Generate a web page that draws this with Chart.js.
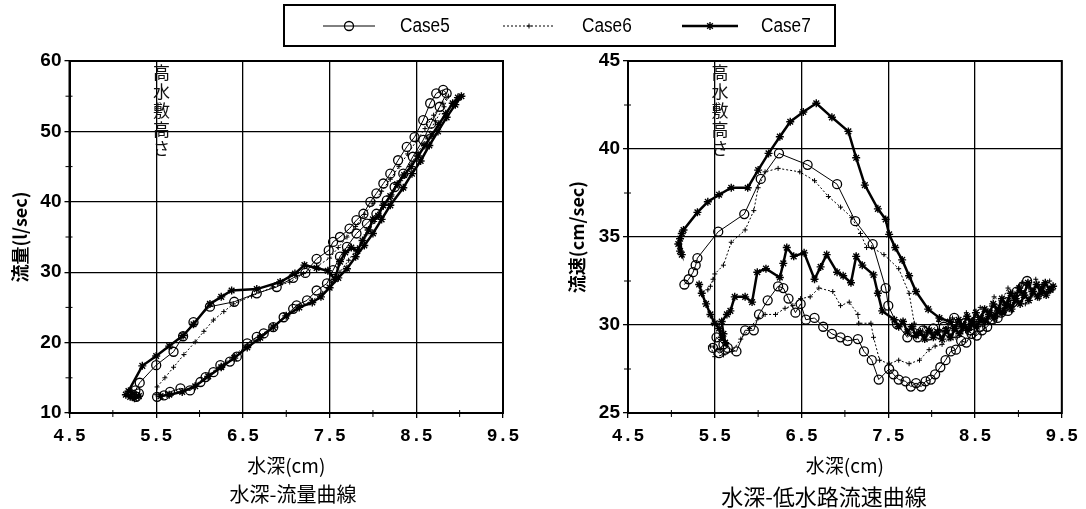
<!DOCTYPE html>
<html>
<head>
<meta charset="utf-8">
<script src="https://cdn.jsdelivr.net/npm/chart.js@4.4.1/dist/chart.umd.min.js"></script>
<style>
  body { margin: 0; background: #fff; }
  #page { position: relative; width: 1086px; height: 509px; overflow: hidden; background: #fff; }
  .wrap { position: absolute; top: 0; height: 509px; }
  #legend { position: absolute; left: 283px; top: 4px; width: 549px; height: 39px; border: 2px solid #000; }
  #legend canvas, #legend span { position: absolute; }
  #legend span { top: 8px; font: 20px "Liberation Sans", sans-serif; color: #000; transform: scaleX(0.86); transform-origin: left center; }
  .caption { position: absolute; top: 479px; font: 20px "Noto Sans CJK JP", sans-serif; color: #000; white-space: nowrap; transform: translateX(-50%); }
</style>
</head>
<body>
<div id="page">
  <div class="wrap" style="left:0;width:545px"><canvas id="flowChart"></canvas></div>
  <div class="wrap" style="left:545px;width:541px"><canvas id="velChart"></canvas></div>
  <div id="legend">
    <canvas id="key0" width="52" height="16" style="left:38px;top:12px"></canvas><span style="left:115px">Case5</span>
    <canvas id="key1" width="52" height="16" style="left:218px;top:12px"></canvas><span style="left:297px">Case6</span>
    <canvas id="key2" width="56" height="16" style="left:397px;top:12px"></canvas><span style="left:476px">Case7</span>
  </div>
  <div class="caption" style="left:293px">水深-流量曲線</div>
  <div class="caption" style="left:824px;font-size:22px">水深-低水路流速曲線</div>
</div>
<script>
// axis ticks
const depthTicks = [4.5, 5.5, 6.5, 7.5, 8.5, 9.5];
const flowTicks = [10, 20, 30, 40, 50, 60];
const velTicks = [25, 30, 35, 40, 45];
const seriesNames = ['Case5', 'Case6', 'Case7'];

// 水深-流量 (rising then falling stage)
const flowDepth5 = [5.22, 5.27, 5.30, 5.26, 5.31, 5.50, 5.70, 5.81, 5.93, 6.12, 6.40, 6.66, 6.89, 7.08, 7.22, 7.35, 7.49, 7.54, 7.62, 7.73,
  7.81, 7.89, 7.97, 8.04, 8.12, 8.20, 8.29, 8.39, 8.48, 8.58, 8.66, 8.73, 8.81, 8.85,
  8.77, 8.67, 8.58, 8.46, 8.35, 8.25, 8.16, 8.04, 7.93, 7.81, 7.70, 7.62, 7.54, 7.47, 7.35, 7.24, 7.12, 7.08, 6.97, 6.85,
  6.74, 6.66, 6.55, 6.43, 6.35, 6.24, 6.16, 6.07, 6.01, 5.89, 5.78, 5.66, 5.59, 5.51];
const flow5 = [12.6, 12.3, 12.8, 13.2, 14.3, 16.8, 18.7, 20.9, 22.9, 25.1, 25.8, 27.0, 27.9, 29.2, 29.9, 31.9, 33.1, 34.3, 35.0, 36.2,
  37.4, 38.3, 40.0, 41.2, 42.6, 44.0, 45.9, 47.8, 49.2, 51.6, 54.0, 55.4, 55.9, 55.4,
  53.5, 51.1, 48.8, 46.4, 44.0, 42.1, 40.2, 38.3, 36.9, 35.5, 33.6, 32.2, 30.3, 28.4, 27.4, 26.0, 25.3, 24.8, 23.6, 22.2,
  21.3, 20.8, 19.9, 18.0, 17.3, 16.8, 15.8, 15.1, 14.4, 13.2, 13.5, 13.0, 12.5, 12.3];

const flowDepth6 = [5.50, 5.51, 5.60, 5.70, 5.82, 5.95, 6.05, 6.16, 6.28, 6.39, 6.60, 6.85, 7.04, 7.20, 7.35, 7.50, 7.60, 7.70, 7.80, 7.90,
  8.00, 8.10, 8.20, 8.30, 8.40, 8.50, 8.60, 8.70, 8.80, 8.87,
  8.82, 8.72, 8.62, 8.52, 8.42, 8.32, 8.22, 8.12, 8.02, 7.92, 7.82, 7.72, 7.62, 7.52, 7.42, 7.30, 7.15, 7.00, 6.85, 6.70,
  6.55, 6.40, 6.25, 6.10, 5.95, 5.80, 5.65, 5.55];
const flow6 = [12.6, 13.7, 15.0, 16.5, 18.3, 20.1, 21.6, 23.2, 24.4, 25.5, 26.6, 27.9, 28.6, 29.8, 30.8, 32.0, 33.5, 35.0, 36.5, 38.2,
  39.8, 41.5, 43.2, 45.0, 46.8, 48.6, 50.4, 52.3, 54.0, 55.0,
  53.5, 51.5, 49.2, 47.0, 45.0, 43.0, 41.0, 39.2, 37.2, 35.3, 33.5, 31.7, 30.0, 28.5, 27.0, 26.0, 25.0, 23.8, 22.4, 21.0,
  19.7, 18.2, 16.8, 15.4, 14.0, 13.0, 12.6, 12.4];

const flowDepth7 = [5.15, 5.20, 5.25, 5.30, 5.22, 5.18, 5.34, 5.50, 5.65, 5.81, 5.93, 6.12, 6.25, 6.37, 6.66, 6.93, 7.10, 7.21, 7.35, 7.48,
  7.56, 7.62, 7.68, 7.75, 7.82, 7.88, 7.95, 8.00, 8.06, 8.12, 8.20, 8.28, 8.36, 8.44, 8.52, 8.60, 8.68, 8.76, 8.84, 8.92,
  8.98, 9.02,
  8.95, 8.85, 8.75, 8.65, 8.55, 8.45, 8.35, 8.20, 8.10, 8.00, 7.90, 7.80, 7.70, 7.60, 7.50, 7.40, 7.30, 7.15, 7.00, 6.85,
  6.70, 6.55, 6.40, 6.25, 6.10, 5.95, 5.80, 5.65, 5.55];
const flow7 = [12.6, 12.3, 12.1, 12.4, 12.9, 13.1, 16.7, 18.1, 19.5, 21.0, 22.6, 25.5, 26.5, 27.4, 27.6, 28.6, 29.8, 31.0, 30.6, 30.2,
  29.0, 31.5, 32.8, 33.5, 33.0, 34.5, 36.0, 37.5, 38.0, 39.5, 40.8, 42.5, 43.8, 45.0, 46.5, 48.0, 49.5, 51.0, 52.5, 54.0,
  54.8, 55.0,
  53.8, 52.0, 50.0, 48.0, 45.8, 44.0, 42.0, 39.5, 37.5, 35.5, 33.8, 32.2, 30.5, 29.2, 27.8, 26.5, 25.7, 25.0, 23.8, 22.2,
  20.7, 19.3, 17.8, 16.5, 15.2, 13.8, 13.0, 12.6, 12.4];

// 水深-低水路流速
const velDepth5 = [5.15, 5.20, 5.25, 5.28, 5.30, 5.54, 5.84, 6.03, 6.24, 6.57, 6.91, 7.12, 7.32, 7.47, 7.50, 7.60, 7.72,
  7.78, 7.84, 7.90, 7.96, 8.02, 8.08, 8.14, 8.20, 8.26, 8.32, 8.38, 8.44, 8.50, 8.56, 8.62, 8.68, 8.74, 8.80, 8.86, 8.92,
  8.98, 9.04, 9.10, 9.05,
  9.00, 8.94, 8.88, 8.82, 8.76, 8.70, 8.64, 8.58, 8.52, 8.46, 8.40, 8.34, 8.28, 8.22, 8.16, 8.10, 8.04, 7.99, 7.93, 7.88,
  7.82, 7.76, 7.70, 7.62, 7.56, 7.51,
  7.39, 7.31, 7.22, 7.15, 7.03, 6.95, 6.85, 6.75, 6.65, 6.55, 6.49, 6.43, 6.35, 6.29, 6.23, 6.11, 6.01, 5.95, 5.85, 5.75,
  5.65, 5.60, 5.52, 5.48, 5.55, 5.62];
const vel5 = [32.3, 32.6, 33.0, 33.4, 33.8, 35.3, 36.3, 38.3, 39.75, 39.1, 38.0, 35.9, 34.6, 32.1, 31.1, 30.05, 29.3,
  29.6, 29.3, 29.7, 29.4, 29.8, 29.5, 29.9, 29.6, 30.4, 29.8, 30.1, 29.7, 30.2, 29.9, 30.5, 30.3, 30.9, 30.7, 31.3, 31.4,
  31.9, 32.1, 32.5, 32.2,
  31.6, 31.3, 30.8, 30.9, 30.4, 30.3, 29.9, 29.7, 29.4, 29.5, 29.0, 29.1, 28.6, 28.5, 28.0, 27.6, 27.2, 26.9, 26.8, 26.5,
  26.7, 26.5, 26.8, 26.9, 27.2, 27.5,
  26.9, 28.0, 28.5, 29.2, 29.1, 29.3, 29.5, 29.9, 30.4, 30.3, 31.2, 30.7, 31.5, 32.1, 32.2, 31.4, 30.6, 29.7, 29.7, 28.5,
  28.7, 28.9, 29.3, 28.7, 28.4, 28.6];

const velDepth6 = [5.42, 5.45, 5.48, 5.50, 5.60, 5.69, 5.85, 5.95, 6.00, 6.08, 6.23, 6.48, 6.65, 6.81, 6.95, 7.08, 7.18, 7.25, 7.31, 7.45,
  7.62, 7.74, 7.80, 7.85,
  7.92, 8.00, 8.08, 8.16, 8.24, 8.32, 8.40, 8.48, 8.56, 8.64, 8.72, 8.80, 8.88, 8.96, 9.04, 9.12, 9.20, 9.28, 9.36, 9.40,
  9.32, 9.24, 9.16, 9.08, 9.00, 8.92, 8.84, 8.76, 8.68, 8.60, 8.52, 8.44, 8.36, 8.28, 8.20, 8.12, 8.04, 7.97,
  7.86, 7.74, 7.62, 7.51, 7.40, 7.33, 7.30, 7.16, 7.15, 7.05, 6.95, 6.86, 6.70, 6.60, 6.49, 6.40, 6.31, 6.20, 6.08, 6.00,
  5.90, 5.80, 5.70, 5.60, 5.50, 5.45, 5.55];
const vel6 = [32.0, 32.2, 32.6, 32.9, 33.4, 34.7, 35.4, 36.5, 37.8, 38.7, 38.9, 38.7, 38.2, 37.3, 36.7, 36.1, 35.2, 34.4, 34.4, 34.0,
  33.2, 31.8, 30.1, 29.6,
  29.9, 29.6, 30.2, 29.8, 30.4, 30.0, 30.7, 30.3, 31.0, 30.8, 31.6, 31.3, 32.1, 31.8, 32.4, 32.1, 32.6, 32.3, 32.5, 32.0,
  31.9, 31.5, 31.7, 31.2, 31.3, 30.8, 31.0, 30.5, 30.6, 30.2, 30.2, 29.8, 29.7, 29.3, 29.2, 28.9, 28.8, 28.6,
  28.0, 27.8, 28.0, 27.8, 28.0, 29.3, 30.1, 30.1, 30.6, 31.3, 31.1, 31.9, 32.1, 31.6, 31.5, 31.1, 30.95, 30.6, 30.6, 30.4,
  29.8, 29.2, 28.5, 28.3, 28.2, 28.8, 28.6];

const velDepth7 = [5.08, 5.10, 5.12, 5.10, 5.12, 5.14, 5.30, 5.42, 5.55, 5.69, 5.88, 6.00, 6.12, 6.25, 6.37, 6.52, 6.67, 6.85, 7.04, 7.13,
  7.23, 7.38, 7.47, 7.51, 7.58, 7.66, 7.74, 7.82, 7.96, 8.09, 8.21,
  8.26, 8.31, 8.36, 8.41, 8.46, 8.51, 8.56, 8.61, 8.66, 8.71, 8.76, 8.81, 8.86, 8.91, 8.96, 9.01, 9.06, 9.11, 9.16, 9.21,
  9.26, 9.31, 9.36, 9.40,
  9.37, 9.32, 9.27, 9.22, 9.17, 9.12, 9.07, 9.02, 8.97, 8.92, 8.87, 8.82, 8.77, 8.72, 8.67, 8.62, 8.57, 8.52, 8.47, 8.42,
  8.37, 8.32, 8.27, 8.22, 8.17, 8.12, 8.07, 8.02, 7.97, 7.92, 7.87, 7.82, 7.77, 7.72, 7.67, 7.62, 7.57,
  7.43, 7.38, 7.33, 7.20, 7.13, 7.07, 6.98, 6.91, 6.79, 6.72, 6.65, 6.53, 6.41, 6.33, 6.29, 6.25, 6.09, 5.99, 5.93, 5.85,
  5.73, 5.68, 5.64, 5.58, 5.60, 5.62, 5.58, 5.55, 5.50, 5.45, 5.40, 5.35, 5.32];
const vel7 = [34.6, 34.2, 34.0, 34.9, 35.2, 35.4, 36.4, 37.0, 37.4, 37.8, 37.8, 38.8, 39.75, 40.7, 41.55, 42.1, 42.6, 41.8, 41.0, 39.5,
  37.95, 36.6, 36.0, 35.15, 34.4, 33.7, 32.8, 31.9, 30.9, 30.4, 30.2,
  29.8, 30.3, 29.9, 30.5, 30.1, 30.7, 30.3, 30.9, 30.6, 31.2, 30.8, 31.5, 31.1, 31.8, 31.4, 32.1, 31.7, 32.4, 31.9, 32.3,
  31.8, 32.4, 32.0, 32.2,
  32.0, 31.7, 32.1, 31.6, 31.9, 31.4, 31.7, 31.2, 31.5, 30.9, 31.2, 30.7, 30.9, 30.4, 30.7, 30.2, 30.4, 29.9, 30.2, 29.7,
  30.0, 29.5, 29.8, 29.3, 29.7, 29.2, 29.6, 29.3, 29.7, 29.2, 29.6, 29.4, 29.9, 29.6, 30.2, 29.9, 30.3,
  30.8, 31.8, 32.85, 33.4, 33.9, 32.4, 32.8, 33.0, 34.0, 33.3, 32.6, 34.1, 33.9, 34.4, 33.5, 32.7, 33.2, 33.0, 31.3, 31.6,
  31.6, 30.8, 30.6, 30.2, 29.5, 29.0, 29.3, 29.8, 30.1, 30.6, 31.2, 31.8, 32.3];

// per-series look
const lineWidths = [1, 1, 2.5];
const lineDashes = [[], [2, 2], []];
const pointStyles = ['circle', 'cross', 'star'];
const pointSizes = [4.5, 2.5, 4];
const pointBorders = [1.3, 1, 1.4];

function series(i, xs, ys) {
  return {
    label: seriesNames[i],
    data: xs.map((x, k) => ({ x: x, y: ys[k] })),
    showLine: true,
    tension: 0,
    borderColor: '#000',
    backgroundColor: 'rgba(0,0,0,0)',
    borderWidth: lineWidths[i],
    borderDash: lineDashes[i],
    pointStyle: pointStyles[i],
    pointRadius: pointSizes[i],
    pointBorderWidth: pointBorders[i],
    pointBorderColor: '#000',
    pointBackgroundColor: 'rgba(0,0,0,0)'
  };
}

// heavy frame, minor tick marks and the 高水敷高さ note
const framePlugin = {
  id: 'frameMarks',
  beforeDatasetsDraw(chart, args, opts) {
    const { ctx, chartArea: a, scales: { x, y } } = chart;
    ctx.save();
    ctx.strokeStyle = '#000';
    ctx.lineWidth = 1;
    ctx.beginPath();
    for (let i = 0; i < depthTicks.length - 1; i++) {
      const px = x.getPixelForValue((depthTicks[i] + depthTicks[i + 1]) / 2);
      ctx.moveTo(px, a.bottom - 3);
      ctx.lineTo(px, a.bottom + 4);
    }
    for (let i = 0; i < opts.yTicks.length - 1; i++) {
      const py = y.getPixelForValue((opts.yTicks[i] + opts.yTicks[i + 1]) / 2);
      ctx.moveTo(a.left - 4, py);
      ctx.lineTo(a.left + 3, py);
    }
    ctx.stroke();
    ctx.lineWidth = 2;
    ctx.strokeRect(a.left, a.top, a.right - a.left, a.bottom - a.top);

    ctx.fillStyle = '#111';
    ctx.font = '17px "Noto Sans CJK JP"';
    ctx.textAlign = 'center';
    ctx.textBaseline = 'middle';
    const tx = x.getPixelForValue(opts.noteAt);
    Array.from(opts.note).forEach((ch, i) => ctx.fillText(ch, tx, a.top + 12 + i * 19));
    ctx.restore();
  }
};

function makeChart(id, datasets, yTicks, yTitle, yWidth, yTitlePad, padRight) {
  return new Chart(document.getElementById(id).getContext('2d'), {
    type: 'scatter',
    data: { datasets: datasets },
    plugins: [framePlugin],
    options: {
      responsive: true,
      maintainAspectRatio: false,
      animation: false,
      layout: { padding: { top: 61, right: padRight, bottom: 29, left: 0 } },
      plugins: {
        legend: { display: false },
        tooltip: { enabled: false },
        frameMarks: { yTicks: yTicks, note: '高水敷高さ', noteAt: 5.56 }
      },
      scales: {
        x: {
          type: 'linear',
          min: depthTicks[0],
          max: depthTicks[depthTicks.length - 1],
          afterBuildTicks: s => { s.ticks = depthTicks.map(v => ({ value: v })); },
          afterFit: s => { s.height = 67; },
          ticks: {
            callback: v => v.toFixed(1),
            autoSkip: false,
            maxRotation: 0,
            padding: 8,
            color: '#000',
            font: { family: 'Liberation Mono', size: 18, weight: 'bold' }
          },
          grid: { color: '#000', lineWidth: 1.3, tickLength: 5 },
          border: { color: '#000', width: 2 },
          title: {
            display: true,
            text: '水深(cm)',
            color: '#000',
            font: { family: 'Noto Sans CJK JP', size: 19 },
            padding: { top: 0, bottom: 3 }
          }
        },
        y: {
          type: 'linear',
          min: yTicks[0],
          max: yTicks[yTicks.length - 1],
          afterBuildTicks: s => { s.ticks = yTicks.map(v => ({ value: v })); },
          afterFit: s => { s.width = yWidth; },
          ticks: {
            padding: 3,
            color: '#000',
            font: { family: 'Liberation Sans', size: 19, weight: 'bold' }
          },
          grid: { color: '#000', lineWidth: 1.3, tickLength: 5 },
          border: { color: '#000', width: 2 },
          title: {
            display: true,
            text: yTitle,
            color: '#000',
            font: { family: 'Noto Sans CJK JP', size: 18, weight: 'bold' },
            padding: { top: yTitlePad, bottom: 0 }
          }
        }
      }
    }
  });
}

makeChart('flowChart', [
  series(0, flowDepth5, flow5),
  series(1, flowDepth6, flow6),
  series(2, flowDepth7, flow7)
], flowTicks, '流量(l/sec)', 69.5, 9, 42);

makeChart('velChart', [
  series(0, velDepth5, vel5),
  series(1, velDepth6, vel6),
  series(2, velDepth7, vel7)
], velTicks, '流速(cm/sec)', 83, 21, 24);

// legend keys
seriesNames.forEach((name, i) => {
  const c = document.getElementById('key' + i);
  const g = c.getContext('2d');
  g.strokeStyle = '#000';
  g.fillStyle = 'rgba(0,0,0,0)';
  g.lineWidth = lineWidths[i];
  g.setLineDash(lineDashes[i]);
  g.beginPath();
  g.moveTo(0, 8);
  g.lineTo(c.width, 8);
  g.stroke();
  g.setLineDash([]);
  g.lineWidth = pointBorders[i];
  Chart.helpers.drawPoint(g, { pointStyle: pointStyles[i], radius: pointSizes[i], borderWidth: pointBorders[i], rotation: 0 }, c.width / 2, 8);
});
</script>
</body>
</html>
